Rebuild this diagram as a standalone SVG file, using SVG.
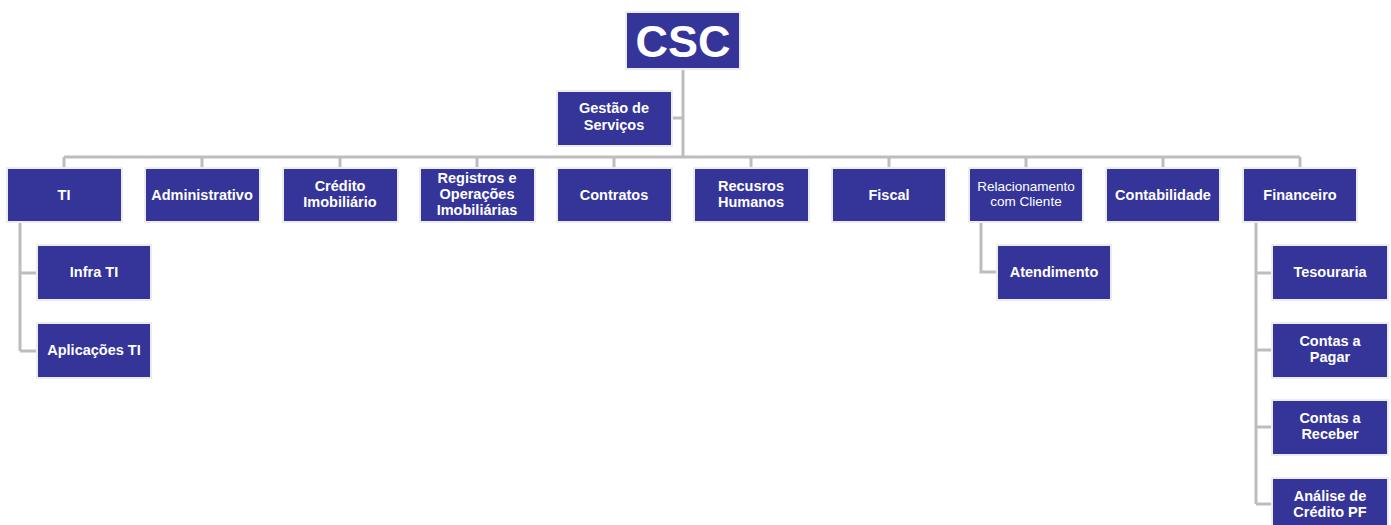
<svg xmlns="http://www.w3.org/2000/svg" width="1391" height="525" viewBox="0 0 1391 525">
<style>
.b{fill:#343499;stroke:#ececec;stroke-width:2}
.t{font-family:"Liberation Sans",Arial,sans-serif;font-weight:bold;font-size:14.5px;fill:#fff;text-anchor:middle}
.s{font-size:13.5px;font-weight:normal}
.c{fill:none;stroke:#bdbdbd;stroke-width:3}
</style>
<rect width="1391" height="525" fill="#fff"/>
<g id="connectors">
<path class="c" d="M683 69V157M672 118H683M64 157H1300M64 157V168M202 157V168M340 157V168M477 157V168M614 157V168M751 157V168M889 157V168M1026 157V168M1163 157V168M1300 157V168"/>
<path class="c" d="M20 222V351M20 273H37M20 351H37"/>
<path class="c" d="M981 222V272H997"/>
<path class="c" d="M1256 222V504M1256 273H1272M1256 350H1272M1256 427H1272M1256 504H1272"/>
</g>
<g id="csc"><rect class="b" x="626" y="12" width="114" height="57"/><text class="t" x="683" y="57" style="font-size:45px">CSC</text></g>
<g id="gestao"><rect class="b" x="557" y="91" width="115" height="55"/><text class="t" x="614" y="113">Gestão de</text><text class="t" x="614" y="130">Serviços</text></g>
<g id="ti"><rect class="b" x="7" y="168" width="115" height="54"/><text class="t" x="64" y="200">TI</text></g>
<g id="administrativo"><rect class="b" x="145" y="168" width="115" height="54"/><text class="t" x="202" y="200">Administrativo</text></g>
<g id="credito"><rect class="b" x="283" y="168" width="115" height="54"/><text class="t" x="340" y="191">Crédito</text><text class="t" x="340" y="207">Imobiliário</text></g>
<g id="registros"><rect class="b" x="420" y="168" width="115" height="54"/><text class="t" x="477" y="183">Registros e</text><text class="t" x="477" y="199">Operações</text><text class="t" x="477" y="215">Imobiliárias</text></g>
<g id="contratos"><rect class="b" x="557" y="168" width="115" height="54"/><text class="t" x="614" y="200">Contratos</text></g>
<g id="rh"><rect class="b" x="694" y="168" width="115" height="54"/><text class="t" x="751" y="191">Recusros</text><text class="t" x="751" y="207">Humanos</text></g>
<g id="fiscal"><rect class="b" x="832" y="168" width="114" height="54"/><text class="t" x="889" y="200">Fiscal</text></g>
<g id="relacionamento"><rect class="b" x="969" y="168" width="114" height="54"/><text class="t s" x="1026" y="191">Relacionamento</text><text class="t s" x="1026" y="206">com Cliente</text></g>
<g id="contabilidade"><rect class="b" x="1106" y="168" width="114" height="54"/><text class="t" x="1163" y="200">Contabilidade</text></g>
<g id="financeiro"><rect class="b" x="1243" y="168" width="114" height="54"/><text class="t" x="1300" y="200">Financeiro</text></g>
<g id="infra"><rect class="b" x="37" y="245" width="114" height="55"/><text class="t" x="94" y="277">Infra TI</text></g>
<g id="aplicacoes"><rect class="b" x="37" y="323" width="114" height="55"/><text class="t" x="94" y="355">Aplicações TI</text></g>
<g id="atendimento"><rect class="b" x="997" y="245" width="114" height="55"/><text class="t" x="1054" y="277">Atendimento</text></g>
<g id="tesouraria"><rect class="b" x="1272" y="245" width="116" height="55"/><text class="t" x="1330" y="277">Tesouraria</text></g>
<g id="pagar"><rect class="b" x="1272" y="323" width="116" height="55"/><text class="t" x="1330" y="346">Contas a</text><text class="t" x="1330" y="362">Pagar</text></g>
<g id="receber"><rect class="b" x="1272" y="400" width="116" height="55"/><text class="t" x="1330" y="423">Contas a</text><text class="t" x="1330" y="439">Receber</text></g>
<g id="analise"><rect class="b" x="1272" y="478" width="116" height="55"/><text class="t" x="1330" y="501">Análise de</text><text class="t" x="1330" y="517">Crédito PF</text></g>
</svg>
